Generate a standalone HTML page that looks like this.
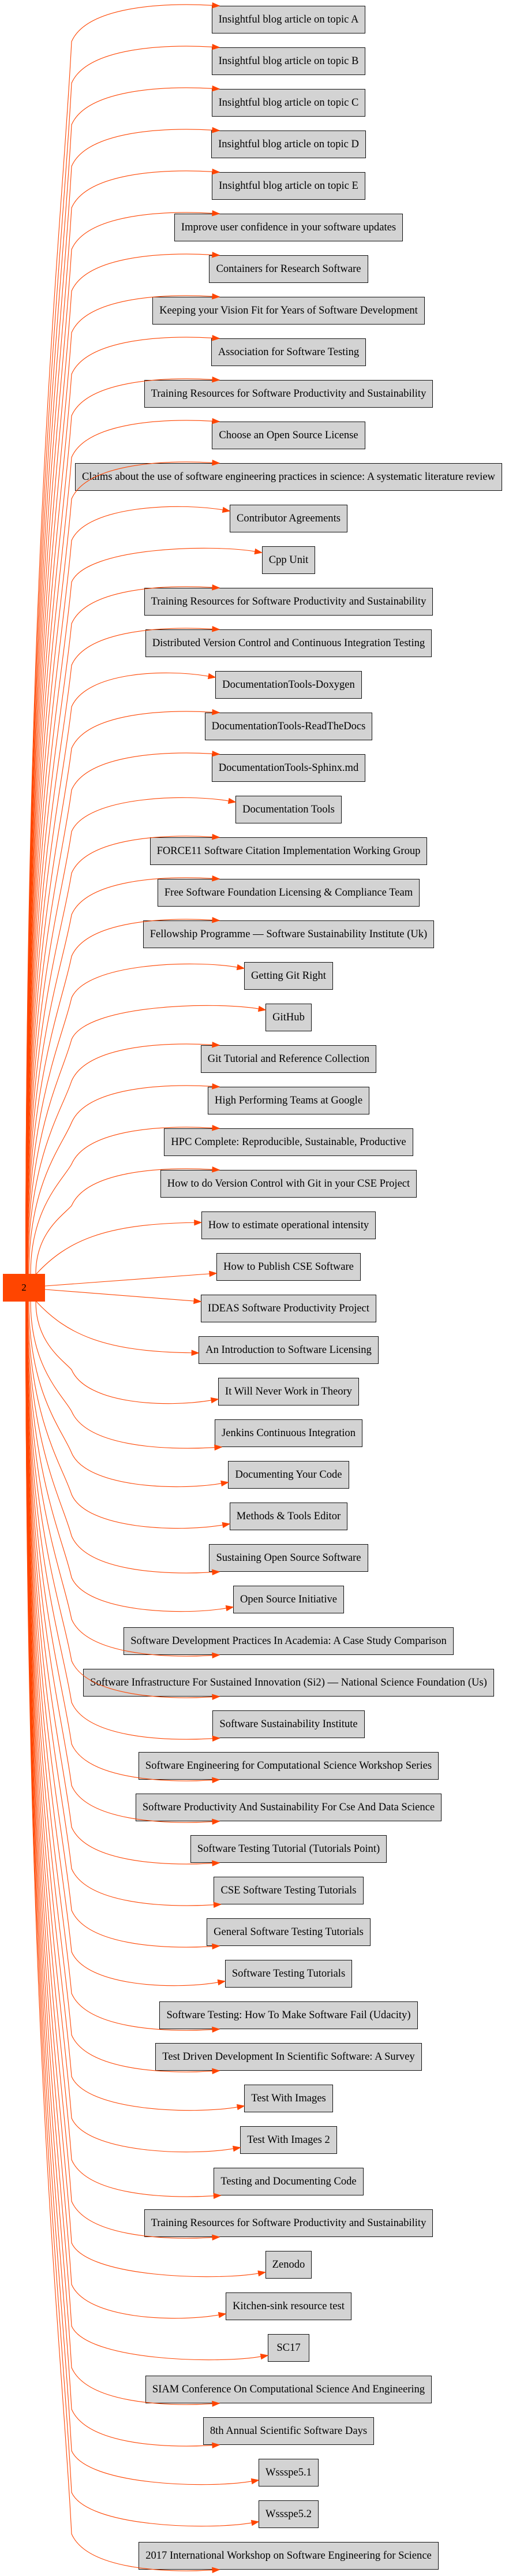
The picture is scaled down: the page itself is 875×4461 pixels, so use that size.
<!DOCTYPE html>
<html><head><meta charset="utf-8">
<style>
html,body{margin:0;padding:0;background:#fff;}
body{width:875px;height:4461px;position:relative;overflow:hidden;font-family:"Liberation Serif",serif;}
.b{position:absolute;height:48px;box-sizing:border-box;background:#d3d3d3;border:1.3px solid #111;line-height:46px;text-align:center;white-space:nowrap;color:#000;}
#hub{position:absolute;left:5px;top:2206px;width:73px;height:48px;background:#ff4500;text-align:center;line-height:48px;font-size:17px;}
svg{position:absolute;left:0;top:0;}
#m{position:absolute;visibility:hidden;white-space:nowrap;font-size:16px;}
</style></head><body>
<div id="c"></div>
<svg id="s" width="875" height="4461"></svg>
<div id="hub">2</div>
<span id="m"></span>
<script>
(function(){
var L=["Insightful blog article on topic A","Insightful blog article on topic B","Insightful blog article on topic C","Insightful blog article on topic D","Insightful blog article on topic E","Improve user confidence in your software updates","Containers for Research Software","Keeping your Vision Fit for Years of Software Development","Association for Software Testing","Training Resources for Software Productivity and Sustainability","Choose an Open Source License","Claims about the use of software engineering practices in science: A systematic literature review","Contributor Agreements","Cpp Unit","Training Resources for Software Productivity and Sustainability","Distributed Version Control and Continuous Integration Testing","DocumentationTools-Doxygen","DocumentationTools-ReadTheDocs","DocumentationTools-Sphinx.md","Documentation Tools","FORCE11 Software Citation Implementation Working Group","Free Software Foundation Licensing & Compliance Team","Fellowship Programme \u2014 Software Sustainability Institute (Uk)","Getting Git Right","GitHub","Git Tutorial and Reference Collection","High Performing Teams at Google","HPC Complete: Reproducible, Sustainable, Productive","How to do Version Control with Git in your CSE Project","How to estimate operational intensity","How to Publish CSE Software","IDEAS Software Productivity Project","An Introduction to Software Licensing","It Will Never Work in Theory","Jenkins Continuous Integration","Documenting Your Code","Methods & Tools Editor","Sustaining Open Source Software","Open Source Initiative","Software Development Practices In Academia: A Case Study Comparison","Software Infrastructure For Sustained Innovation (Si2) \u2014 National Science Foundation (Us)","Software Sustainability Institute","Software Engineering for Computational Science Workshop Series","Software Productivity And Sustainability For Cse And Data Science","Software Testing Tutorial (Tutorials Point)","CSE Software Testing Tutorials","General Software Testing Tutorials","Software Testing Tutorials","Software Testing: How To Make Software Fail (Udacity)","Test Driven Development In Scientific Software: A Survey","Test With Images","Test With Images 2","Testing and Documenting Code","Training Resources for Software Productivity and Sustainability","Zenodo","Kitchen-sink resource test","SC17","SIAM Conference On Computational Science And Engineering","8th Annual Scientific Software Days","Wssspe5.1","Wssspe5.2","2017 International Workshop on Software Engineering for Science"];
var m=document.getElementById('m');m.textContent=L[0];
var fs=16*243/m.getBoundingClientRect().width;m.style.fontSize=fs+'px';
var c=document.getElementById('c'),s=document.getElementById('s'),CX=500,H='';
var col='#ff4500';
function arrow(px,py,tx,ty){var dx=tx-px,dy=ty-py,l=Math.sqrt(dx*dx+dy*dy)||1;dx/=l;dy/=l;var bx=tx-dx*12,by=ty-dy*12;
H+='<polygon points="'+tx+','+ty+' '+(bx-dy*4.5)+','+(by+dx*4.5)+' '+(bx+dy*4.5)+','+(by-dx*4.5)+'" fill="'+col+'" stroke="'+col+'"/>';return [bx,by];}
for(var i=0;i<L.length;i++){
 m.textContent=L[i];var w=Math.max(m.getBoundingClientRect().width+24,72);
 var tp=10+72*i,left=CX-w/2,bot=tp+48,cy=tp+24;
 var d=document.createElement('div');d.className='b';d.style.left=left+'px';d.style.top=tp+'px';d.style.width=w+'px';d.style.fontSize=fs+'px';d.textContent=L[i];c.appendChild(d);
 var up=i<=30, k=Math.abs(i-30.5);
 if(i==30){var e=arrow(78,2227,left,cy+11);H+='<path d="M78,2227 L'+e[0]+','+e[1]+'"/>';continue;}
 if(i==31){var e=arrow(78,2233,left,cy-12);H+='<path d="M78,2233 L'+e[0]+','+e[1]+'"/>';continue;}
 if(i==29||i==32){var sg=up?-1:1,ty=up?cy-5:cy+5;var e=arrow(250,ty-sg*2,left,ty);
  H+='<path d="M63,'+(2230+sg*24)+' C115,'+(2230+sg*80)+' 180,'+(ty-sg*2)+' '+e[0]+','+e[1]+'"/>';continue;}
 var sx=44+18/(k-1.5), y0=up?2206:2254, b=up?bot+14:tp-14, dd=Math.abs(y0-b);
 var narrow=left>372, tx,ty,p2x,p2y;
 if(narrow){tx=left;ty=up?tp+11:bot-11;p2x=left-90;p2y=up?tp-4:bot+4;}
 else{tx=Math.max(left+12,380);ty=up?tp:bot;p2x=280;p2y=up?tp-6:bot+6;}
 var e=arrow(p2x,p2y,tx,ty);
 var sg=up?1:-1;
 H+='<path d="M'+sx+','+y0+' C'+sx+','+(y0-sg*0.6*dd)+' 108,'+(b+sg*0.15*dd)+' 124,'+b+' C150,'+(up?tp+2:bot-2)+' '+p2x+','+p2y+' '+e[0]+','+e[1]+'"/>';
}
s.innerHTML='<g fill="none" stroke="'+col+'" stroke-width="1.1">'+H+'</g>';
})();
</script>
</body></html>
